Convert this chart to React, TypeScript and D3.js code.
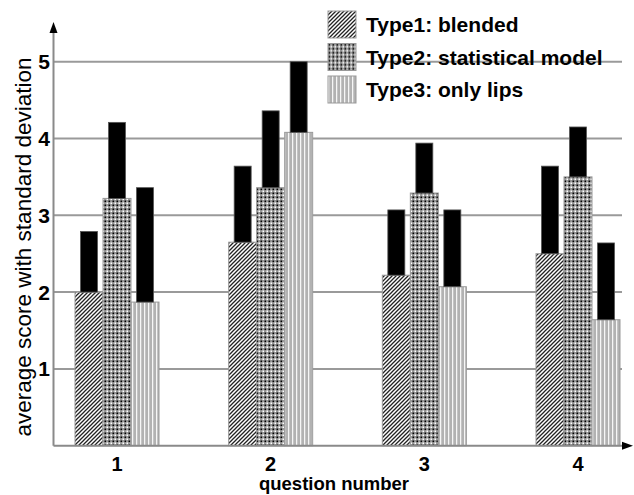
import React from "react";
import * as d3 from "d3";

const categories = ["1", "2", "3", "4"];
const seriesNames = ["Type1: blended", "Type2: statistical model", "Type3: only lips"];
const blendedMean = [2.0, 2.65, 2.22, 2.5];
const blendedTop = [2.79, 3.64, 3.07, 3.64];
const statMean = [3.22, 3.36, 3.29, 3.5];
const statTop = [4.21, 4.36, 3.94, 4.15];
const lipsMean = [1.87, 4.08, 2.07, 1.64];
const lipsTop = [3.36, 5.0, 3.07, 2.64];
const yTicks = [1, 2, 3, 4, 5];

const W = 634;
const H = 495;
const means = [blendedMean, statMean, lipsMean];
const tops = [blendedTop, statTop, lipsTop];
const patternIds = ["p1", "p2", "p3"];

export default function App() {
  const y = d3.scaleLinear().domain([0, 5]).range([445.7, 61.7]);
  const x = d3.scalePoint<string>().domain(categories).range([117, 578]);
  const inner = d3.scaleBand<string>().domain(seriesNames).range([-42, 42]).padding(0);
  const bw = inner.bandwidth();
  const errW = 17;
  const axisX = 53.5;
  const baseY = y(0);
  const font = "'Liberation Sans', Arial, sans-serif";

  return (
    <svg width={W} height={H} style={{ position: "absolute", left: 0, top: 0, background: "#fff" }}>
      <defs>
        <pattern id="p1" patternUnits="userSpaceOnUse" width="4" height="4">
          <rect width="4" height="4" fill="#fff" />
          <path d="M-1,1 l2,-2 M0,4 l4,-4 M3,5 l2,-2" stroke="#222" strokeWidth="1.3" />
        </pattern>
        <pattern id="p2" patternUnits="userSpaceOnUse" width="4" height="4">
          <rect width="4" height="4" fill="#9a9a9a" />
          <rect x="0.5" y="0.5" width="1.6" height="1.6" fill="#000" />
          <rect x="2.5" y="2.5" width="1.6" height="1.6" fill="#fff" />
        </pattern>
        <pattern id="p3" patternUnits="userSpaceOnUse" width="4" height="4">
          <rect width="4" height="4" fill="#c4c4c4" />
          <rect x="0" y="0" width="1" height="4" fill="#f6f6f6" />
          <rect x="2.5" y="0" width="1" height="4" fill="#a0a0a0" />
        </pattern>
      </defs>

      {/* gridlines */}
      {yTicks.map((t) => (
        <line key={"g" + t} x1={axisX} x2={622} y1={y(t)} y2={y(t)} stroke="#9a9a9a" strokeWidth={2} />
      ))}

      {/* bars */}
      {categories.map((c, ci) =>
        seriesNames.map((s, si) => {
          const cx = (x(c) as number) + (inner(s) as number);
          const m = means[si][ci];
          const t = tops[si][ci];
          return (
            <g key={c + s}>
              <rect
                x={cx}
                y={y(m)}
                width={bw}
                height={baseY - y(m)}
                fill={`url(#${patternIds[si]})`}
                stroke="#999"
                strokeWidth={1}
              />
              <rect
                x={cx + (bw - errW) / 2}
                y={y(t)}
                width={errW}
                height={y(m) - y(t)}
                fill="#000"
                stroke="#555"
                strokeWidth={0.8}
              />
            </g>
          );
        })
      )}

      {/* axes */}
      <line x1={axisX} x2={axisX} y1={baseY} y2={30} stroke="#8a8a8a" strokeWidth={2} />
      <path d={`M${axisX - 4},${33} L${axisX},${22} L${axisX + 4},${33} Z`} fill="#000" />
      <line x1={axisX} x2={624} y1={baseY} y2={baseY} stroke="#8a8a8a" strokeWidth={2} />
      <path d={`M${622},${baseY - 4} L${633},${baseY} L${622},${baseY + 4} Z`} fill="#000" />

      {/* y ticks */}
      {yTicks.map((t) => (
        <text
          key={"yt" + t}
          x={50}
          y={y(t) + 7.5}
          textAnchor="end"
          fontFamily={font}
          fontWeight="bold"
          fontSize={21}
          fill="#000"
        >
          {t}
        </text>
      ))}

      {/* x ticks */}
      {categories.map((c) => (
        <text
          key={"xt" + c}
          x={x(c) as number}
          y={471}
          textAnchor="middle"
          fontFamily={font}
          fontWeight="bold"
          fontSize={20}
          fill="#000"
        >
          {c}
        </text>
      ))}

      <text x={334} y={490} textAnchor="middle" fontFamily={font} fontWeight="bold" fontSize={18.5} fill="#000">
        question number
      </text>
      <text
        transform={`translate(31,${247}) rotate(-90)`}
        textAnchor="middle"
        fontFamily={font}
        fontSize={22.5}
        fill="#000"
      >
        average score with standard deviation
      </text>

      {/* legend */}
      {seriesNames.map((s, i) => (
        <g key={"lg" + s} transform={`translate(328,${11 + i * 32.5})`}>
          <rect width={28} height={27} fill={`url(#${patternIds[i]})`} stroke="#999" strokeWidth={1} />
          <text x={38} y={21} fontFamily={font} fontWeight="bold" fontSize={21} fill="#000">
            {s}
          </text>
        </g>
      ))}
    </svg>
  );
}
